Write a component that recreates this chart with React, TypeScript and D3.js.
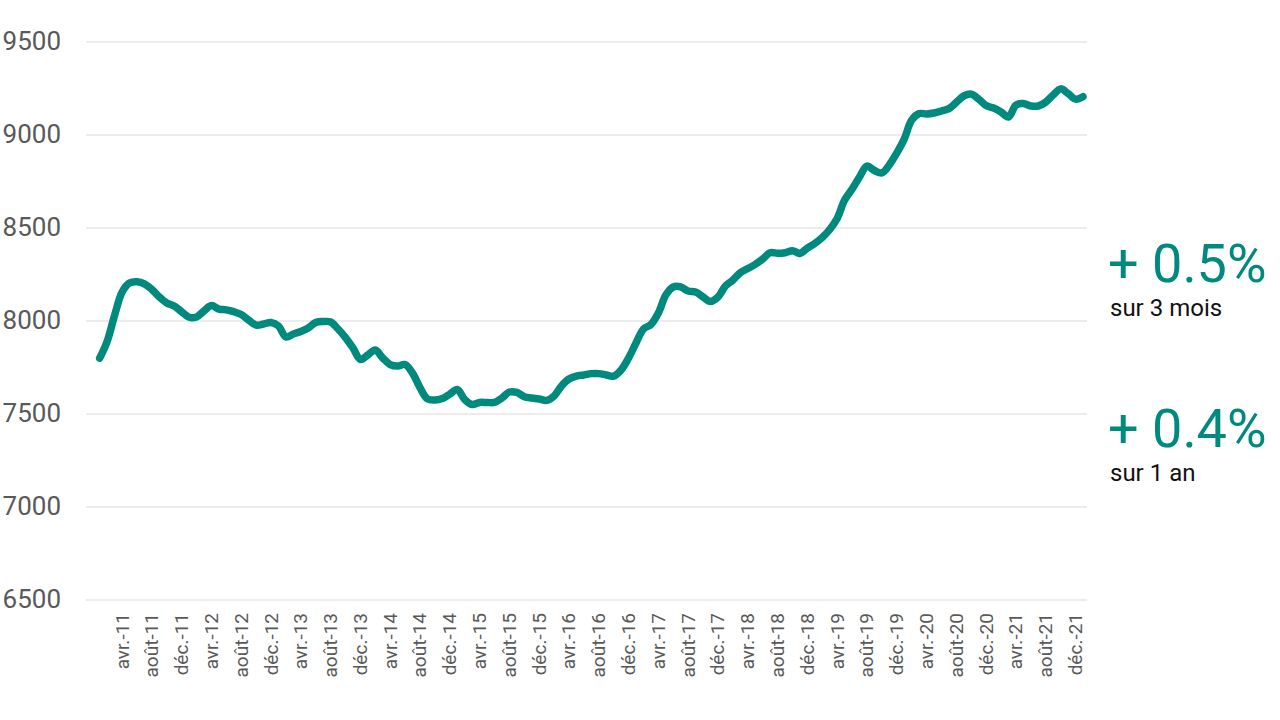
import React from "react";
import * as d3 from "d3";

const monthNames = ["janv.", "févr.", "mars", "avr.", "mai", "juin", "juil.", "août", "sept.", "oct.", "nov.", "déc."];
const years = [10, 11, 12, 13, 14, 15, 16, 17, 18, 19, 20, 21, 22];

// categories: déc.-10 .. janv.-22 (axis), data from janv.-11
const categories: string[] = [];
years.forEach((y) => {
  monthNames.forEach((m, mi) => {
    if (y === 10 && mi < 11) return;
    if (y === 22 && mi > 0) return;
    categories.push(`${m}-${y}`);
  });
});

const tickLabels = [
  "avr.-11", "août-11", "déc.-11", "avr.-12", "août-12", "déc.-12", "avr.-13", "août-13", "déc.-13",
  "avr.-14", "août-14", "déc.-14", "avr.-15", "août-15", "déc.-15", "avr.-16", "août-16", "déc.-16",
  "avr.-17", "août-17", "déc.-17", "avr.-18", "août-18", "déc.-18", "avr.-19", "août-19", "déc.-19",
  "avr.-20", "août-20", "déc.-20", "avr.-21", "août-21", "déc.-21",
];

const seriesStart = 1; // janv.-11
const values = [
  7800, 7890, 8030, 8155, 8204, 8211, 8200, 8170, 8129, 8097, 8080, 8050,
  8020, 8022, 8054, 8083, 8064, 8060, 8050, 8035, 8005, 7978, 7984, 7992,
  7973, 7914, 7930, 7943, 7962, 7992, 7997, 7995, 7957, 7911, 7855, 7793,
  7817, 7844, 7801, 7766, 7758, 7766, 7720, 7642, 7581, 7575, 7583, 7607,
  7632, 7578, 7551, 7562, 7562, 7562, 7586, 7618, 7616, 7593, 7586, 7581,
  7573, 7597, 7651, 7688, 7704, 7710, 7717, 7717, 7710, 7704, 7737, 7801,
  7882, 7957, 7981, 8043, 8140, 8183, 8183, 8161, 8156, 8129, 8105, 8129,
  8188, 8220, 8260, 8282, 8304, 8333, 8367, 8364, 8367, 8378, 8363, 8392,
  8417, 8449, 8492, 8551, 8650, 8709, 8774, 8833, 8809, 8796, 8839, 8903,
  8978, 9080, 9115, 9113, 9118, 9129, 9142, 9175, 9210, 9220, 9193, 9158,
  9145, 9124, 9097, 9161, 9169, 9156, 9156, 9177, 9215, 9248, 9223, 9193,
  9206,
];

const yTicks = [6500, 7000, 7500, 8000, 8500, 9000, 9500];

const annotations = [
  { big: "+ 0.5%", small: "sur 3 mois" },
  { big: "+ 0.4%", small: "sur 1 an" },
];

const TEAL = "#008A7E";
const GRID = "#d9d9d9";
const AXIS_TEXT = "#595959";
const FONT = "Roboto, 'Noto Sans', sans-serif";

export default function App() {
  const x = d3.scaleBand<string>().domain(categories).range([88.5, 1086.7]).paddingInner(0).paddingOuter(0);
  const xc = (c: string) => (x(c) as number) + x.bandwidth() / 2;
  const y = d3.scaleLinear().domain([6500, 9500]).range([600, 42]);

  const data = values.map((v, i) => ({ c: categories[i + seriesStart], v }));
  const line = d3
    .line<{ c: string; v: number }>()
    .x((d) => xc(d.c))
    .y((d) => y(d.v))
    .curve(d3.curveCatmullRom.alpha(0.5));

  return (
    <svg
      width={1280}
      height={720}
      style={{ position: "absolute", left: 0, top: 0, background: "#fff" }}
      fontFamily={FONT}
    >
      {yTicks.map((t) => (
        <g key={t}>
          <line x1={86} x2={1087} y1={y(t)} y2={y(t)} stroke={GRID} strokeWidth={1} />
          <text x={61} y={y(t) + 7.5} textAnchor="end" fontSize={26} fill={AXIS_TEXT}>
            {t}
          </text>
        </g>
      ))}
      {tickLabels.map((c) => (
        <text
          key={c}
          transform={`translate(${xc(c) + 6.5},613) rotate(-90)`}
          textAnchor="end"
          fontSize={19}
          fill={AXIS_TEXT}
        >
          {c}
        </text>
      ))}
      <path
        d={line(data) || ""}
        fill="none"
        stroke={TEAL}
        strokeWidth={7.5}
        strokeLinecap="round"
        strokeLinejoin="round"
      />
      {annotations.map((a, i) => (
        <g key={a.big}>
          <text x={1108} y={282 + i * 165} fontSize={54} fill={TEAL}>
            {a.big}
          </text>
          <text x={1110} y={316 + i * 165} fontSize={24} fill="#111">
            {a.small}
          </text>
        </g>
      ))}
    </svg>
  );
}
